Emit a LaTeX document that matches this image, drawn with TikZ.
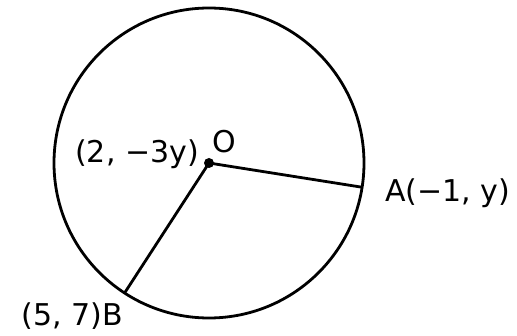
\documentclass[tikz,border=0pt]{standalone}
\usepackage{fontspec}
\setmainfont{DejaVu Sans}
\usetikzlibrary{positioning}

\begin{document}
\begin{tikzpicture}[x=1pt,y=1pt,
  lbl/.style={inner sep=0pt,font=\fontsize{30}{32}\selectfont},
  rim/.style={draw,circle,line width=2.8pt,inner sep=0pt,outer sep=0pt,minimum size=310pt},
  rad/.style={line width=2.8pt}]
\useasboundingbox (0,0) rectangle (517,335);
\node[rim] (circ) at (209,172) {};
\coordinate (O) at (circ.center);
\coordinate (A) at (circ.-9.6);
\coordinate (B) at (circ.237.9);
\draw[rad] (O) -- (A);
\draw[rad] (O) -- (B);
\fill (O) circle (5pt);
\node[lbl,anchor=base east] (oxy) at (199,172) {(2, −3y)};
\node[lbl,anchor=base west] (olab) at (212,182) {O};
\node[lbl,anchor=base west] (alab) at (385,133) {A(−1, y)};
\node[lbl,anchor=base east] (blab) at (123,10) {(5, 7)B};
\end{tikzpicture}
\end{document}
